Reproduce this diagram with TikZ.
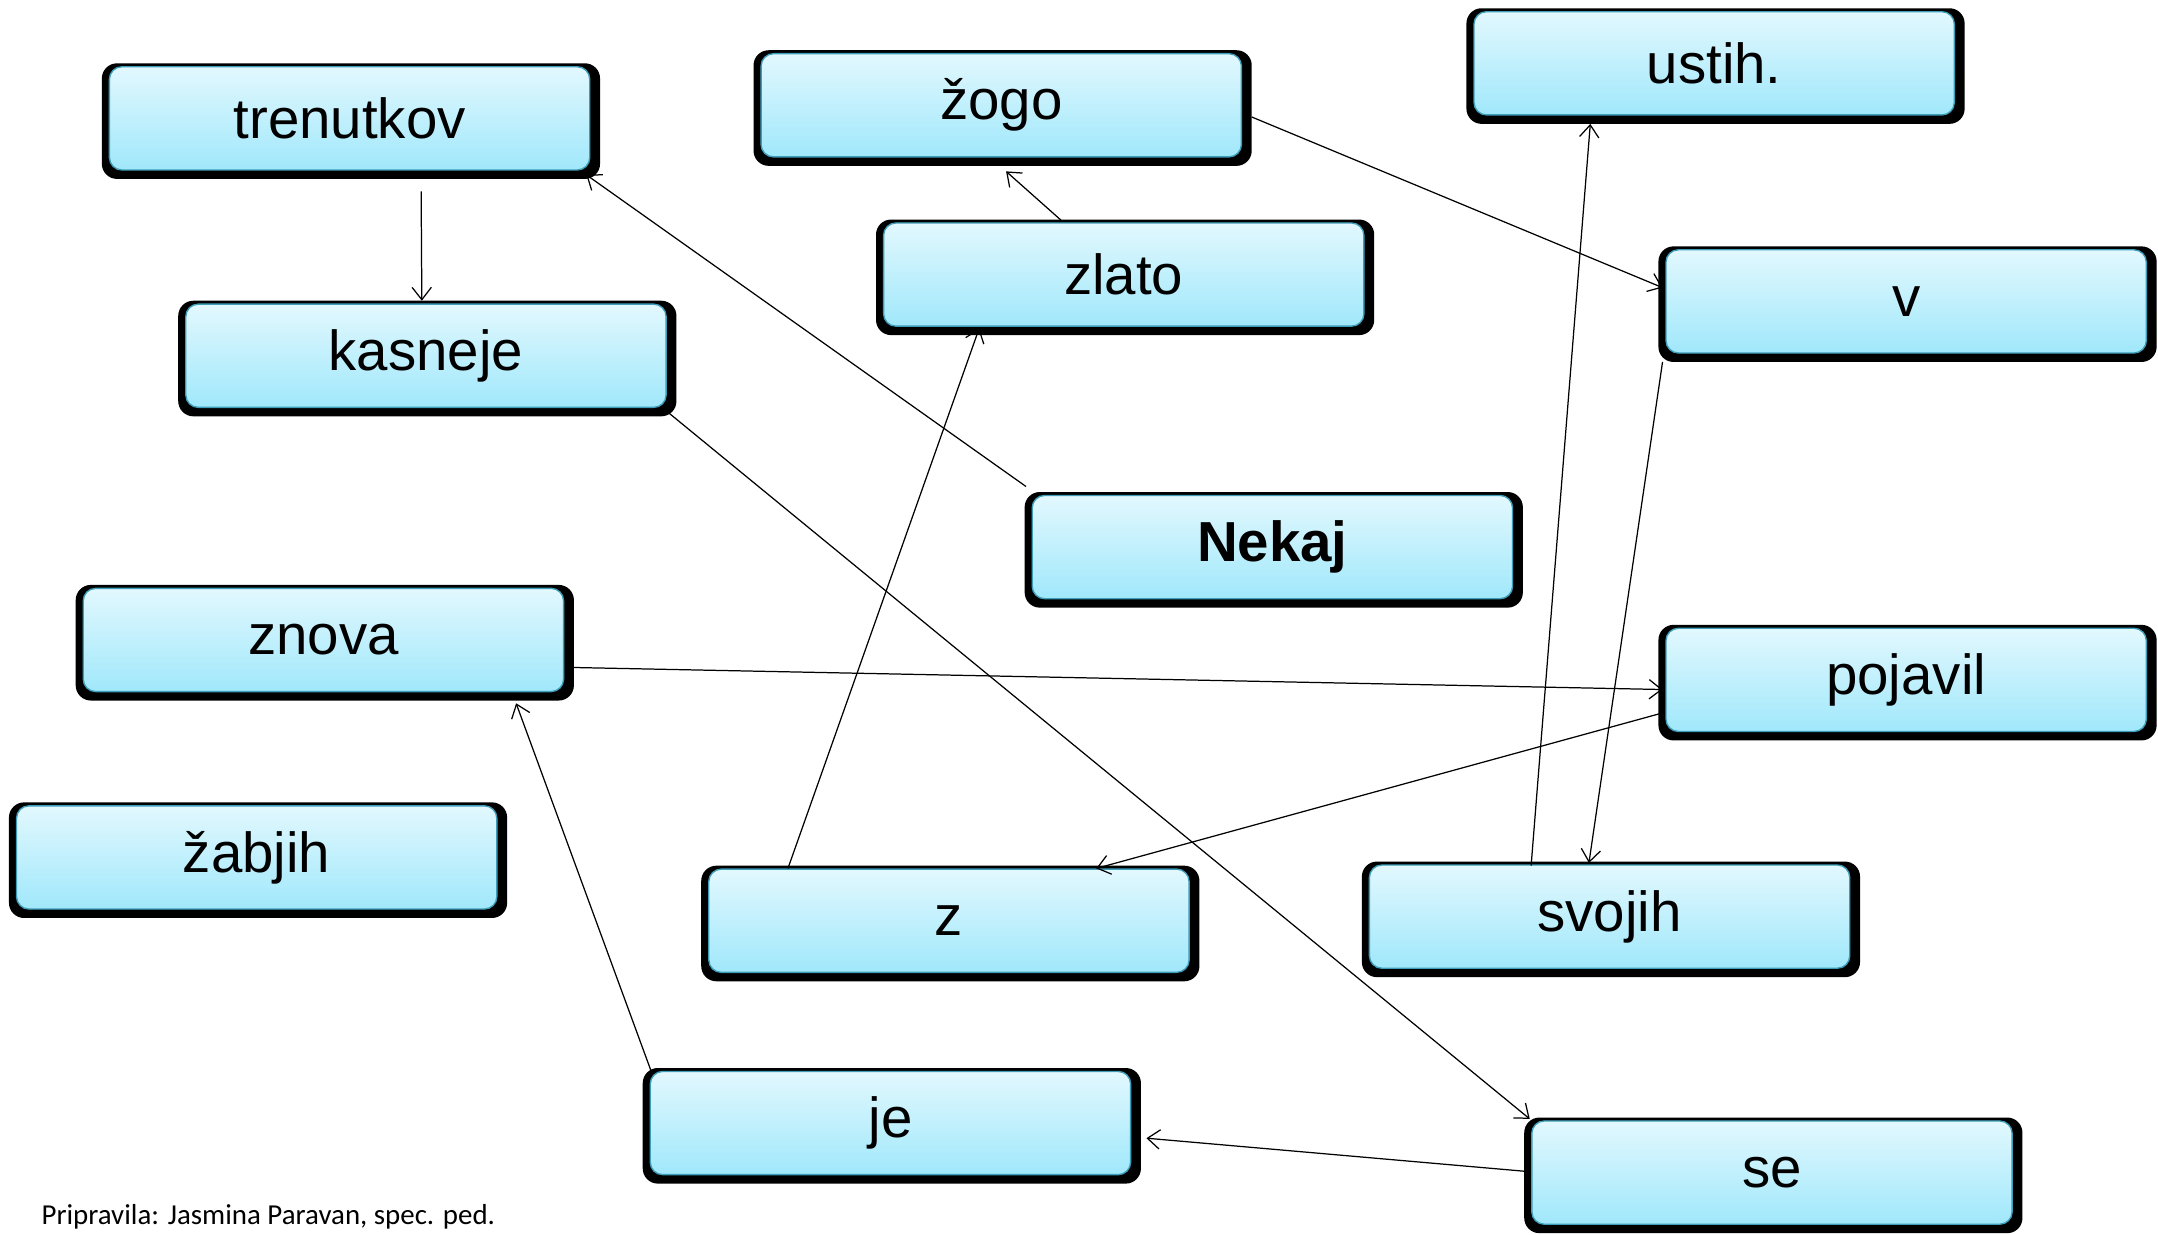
\documentclass[tikz,border=0pt]{standalone}
\usepackage{fontspec}
\setmainfont{Liberation Sans}
\newfontfamily\footfont{Carlito}
\usetikzlibrary{arrows.meta,backgrounds}
\definecolor{boxtop}{HTML}{E2F8FE}
\definecolor{boxbot}{HTML}{A0E8FB}
\definecolor{boxedge}{HTML}{3E9DB8}
\tikzset{
  wordbox/.style={rectangle, rounded corners=9pt, top color=boxtop, bottom color=boxbot,
    draw=boxedge, line width=1pt, minimum width=349pt, minimum height=75pt,
    inner sep=0pt, font=\fontsize{41}{41}\selectfont},
  arr/.style={line width=0.9pt, -{Straight Barb[length=9pt,width=14pt,line width=0.9pt]}}
}
\begin{document}
\begin{tikzpicture}[x=1pt,y=-1pt]
\useasboundingbox (0,0) rectangle (1568,897);
\node[wordbox] (trenutkov) at (254,86) {trenutkov};
\node[wordbox] (zogo) at (727.5,76.5) {žogo};
\node[wordbox] (ustih) at (1245.5,46) {ustih.};
\node[wordbox] (zlato) at (816.5,199.5) {zlato};
\node[wordbox] (kasneje) at (309.5,258.5) {kasneje};
\node[wordbox] (v) at (1385,219) {v};
\node[wordbox] (nekaj) at (924.5,397.5) {\bfseries Nekaj};
\node[wordbox] (znova) at (235,465) {znova};
\node[wordbox] (pojavil) at (1385,494) {pojavil};
\node[wordbox] (zabjih) at (186.5,623) {žabjih};
\node[wordbox] (z) at (689.5,669) {z};
\node[wordbox] (svojih) at (1169.5,666) {svojih};
\node[wordbox] (je) at (647,816) {je};
\node[wordbox] (se) at (1287.5,852) {se};
\begin{scope}[on background layer]
\foreach \n in {trenutkov,zogo,ustih,zlato,kasneje,v,nekaj,znova,pojavil,zabjih,z,svojih,je,se}
  \fill[black, rounded corners=11pt] ([shift={(-5pt,2pt)}]\n.north west) rectangle ([shift={(7pt,-6pt)}]\n.south east);
\end{scope}
\node[font=\footfont\fontsize{21}{21}\selectfont, anchor=base west, inner sep=0pt] (credit) at (30,890) {Pripravila: Jasmina Paravan, spec. ped.};
% connectors
\draw[arr] ([xshift=227pt,yshift=-15pt]trenutkov.south west) -- ([xshift=172pt,yshift=2pt]kasneje.north west);
\draw[arr] ([shift={(-4pt,6pt)}]nekaj.north west) -- ([shift={(-3pt,-3pt)}]trenutkov.south east);
\draw[arr] ([xshift=130pt,yshift=1pt]zlato.north west) -- ([xshift=178.5pt,yshift=-10pt]zogo.south west);
\draw[arr] ([shift={(7pt,-8.5pt)}]zogo.east) -- ([shift={(-2pt,10pt)}]v.west);
\draw[arr] ([xshift=58pt]z.north west) -- ([xshift=70pt,yshift=-1pt]zlato.south west);
\draw[arr] ([xshift=118pt,yshift=-1pt]svojih.north west) -- ([xshift=85pt,yshift=-6pt]ustih.south west);
\draw[arr] ([shift={(-2pt,-6pt)}]v.south west) -- ([xshift=160pt,yshift=1pt]svojih.north west);
\draw[arr] ([shift={(2pt,-4pt)}]kasneje.south east) -- ([shift={(-1pt,1pt)}]se.north west);
\draw[arr] ([shift={(7pt,-20pt)}]znova.east) -- ([shift={(-2pt,-7pt)}]pojavil.west);
\draw[arr] ([shift={(-2pt,-24pt)}]pojavil.west) -- ([xshift=282pt]z.north west);
\draw[arr] ([xshift=1pt]je.north west) -- ([xshift=315pt,yshift=-8pt]znova.south west);
\draw[arr] ([xshift=-5pt,yshift=1pt]se.west) -- ([shift={(11pt,-11pt)}]je.east);
\end{tikzpicture}
\end{document}
